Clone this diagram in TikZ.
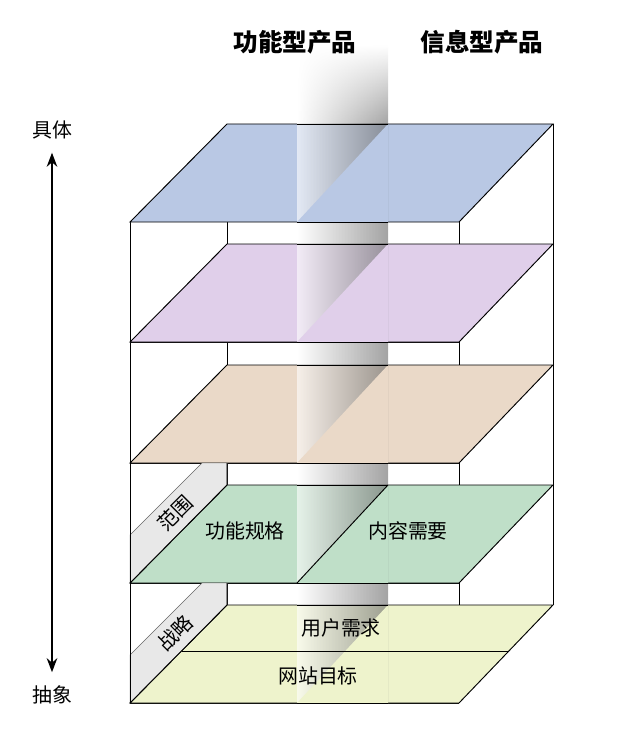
\documentclass[tikz,border=0pt]{standalone}
\usepackage{fontspec}
\setmainfont{Noto Sans CJK SC}
\usetikzlibrary{positioning}
\usetikzlibrary{arrows.meta}
\usetikzlibrary{fadings}
\definecolor{planeA}{HTML}{B9C8E4}
\definecolor{planeB}{HTML}{E0CFEA}
\definecolor{planeC}{HTML}{EAD9C8}
\definecolor{planeD}{HTML}{BFDFC8}
\definecolor{planeE}{HTML}{EEF3CC}

\begin{document}
\begin{tikzpicture}[
	x = 0.03cm, y = -0.03cm,
	plane/.style={draw, line width=0.8pt},
	edge/.style={draw, line width=0.8pt},
	band/.style={left color=white, right color=black!60, opacity=0.6},
	strip/.style={fill=black!9, draw=black!60, line width=0.4pt},
	lbl/.style={font=\fontsize{17}{19}\selectfont, inner sep=0pt},
	title/.style={font=\fontsize{21}{24}\selectfont\bfseries, inner sep=0pt},
	]
	\useasboundingbox (0,0) rectangle (618,736);

	% box edges behind the planes
	\draw[edge] (130,222) -- (130,703);
	\draw[edge] (459,222) -- (459,703);
	\draw[edge] (227,124) -- (227,605);
	\draw[edge] (553,124) -- (553,605);
	\foreach \yf in {342,463,583,703}
		\draw[edge] (130,\yf) -- (459,\yf);

	% the five planes
	\foreach \yf/\col in {222/planeA,342/planeB,463/planeC,583/planeD,703/planeE}{
		\pgfmathsetmacro{\yb}{\yf-98}
		\filldraw[plane, fill=\col] (130,\yf) -- (227,\yb) -- (553,\yb) -- (459,\yf) -- cycle;
	}

	% shadow of the divider wall
	\shade[band, path fading=north] (297,45) rectangle (388,124);
	\shade[band] (297,124) rectangle (388,703);
	\foreach \yf/\col in {222/planeA,342/planeB,463/planeC,583/planeD,703/planeE}{
		\pgfmathsetmacro{\yb}{\yf-98}
		\fill[\col] (388,\yb) -- (388,\yf) -- (297,\yf) -- cycle;
		\draw[line width=0.8pt] (297,\yf) -- (388,\yf);
	}
	\foreach \yf in {222,342,463,583,703}
		\draw[line width=0.8pt] (297,\yf-98) -- (388,\yf-98);
	\draw[line width=0.8pt] (297,583) -- (388,485);
	\draw[line width=0.8pt] (182,651) -- (509,651);

	% grey side strips
	\filldraw[strip] (130,583) -- (227,485) -- (227,463) -- (202,463) -- (130,535) -- cycle;
	\filldraw[strip] (130,703) -- (227,605) -- (227,583) -- (202,583) -- (130,655) -- cycle;
	\draw[edge] (130,463) -- (130,703);
	\draw[edge] (130,583) -- (227,485) -- (227,463);
	\draw[edge] (130,703) -- (227,605) -- (227,583);

	% texts
	\node[title] (func) at (295,42) {功能型产品};
	\node[title] (info) at (482,42) {信息型产品};
	\node[lbl, rotate=45] (scope) at (175,513) {范围};
	\node[lbl, rotate=45] (strat) at (175,633) {战略};
	\node[lbl] (spec) at (245,531) {功能规格};
	\node[lbl] (req) at (408,531) {内容需要};
	\node[lbl] (user) at (341,628) {用户需求};
	\node[lbl] (goal) at (318,676) {网站目标};

	\node[lbl] (concrete) at (52,130) {具体};
	\node[lbl] (abstract) at (52,695) {抽象};
	\draw[{Stealth[length=12pt,width=9pt]}-{Stealth[length=12pt,width=9pt]}, line width=1.8pt]
		([yshift=-0.4cm] concrete.south) -- ([yshift=0.4cm] abstract.north);
\end{tikzpicture}
\end{document}
